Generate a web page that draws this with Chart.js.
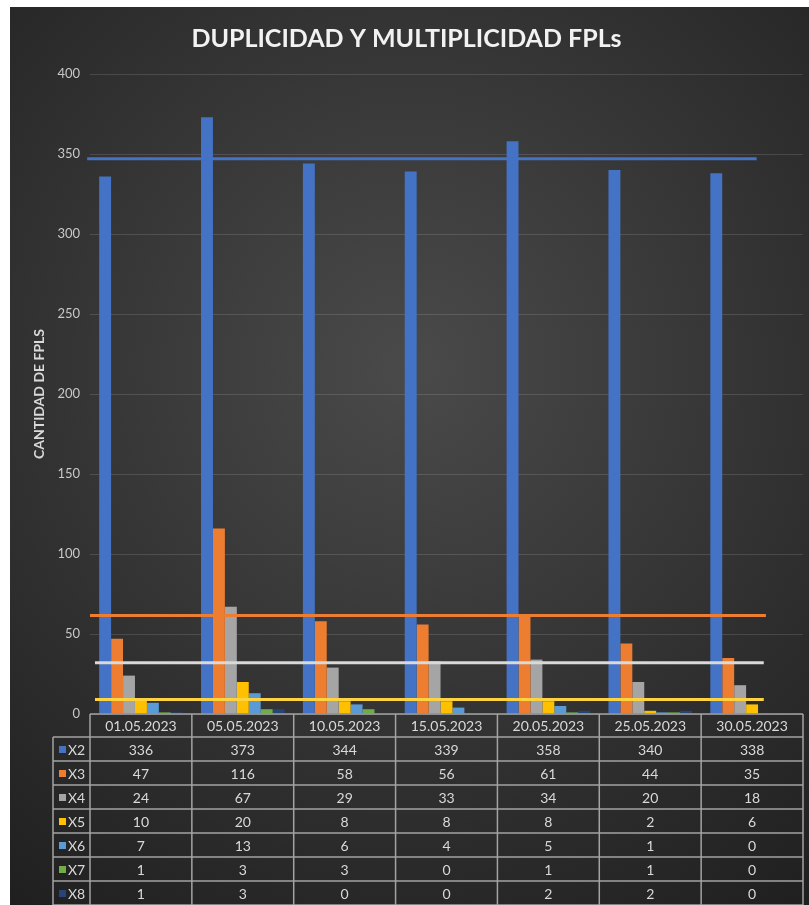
<!DOCTYPE html>
<html>
<head>
<meta charset="utf-8">
<script src="https://cdn.jsdelivr.net/npm/chart.js@4/dist/chart.umd.min.js"></script>
<style>
    html, body { margin: 0; padding: 0; background: #ffffff; }
    #wrap { position: absolute; left: 10px; top: 7px; }
</style>
</head>
<body>
<div id="wrap"><canvas id="fplChart" width="799" height="898"></canvas></div>
<script>
// Data
const fechas = ['01.05.2023', '05.05.2023', '10.05.2023', '15.05.2023', '20.05.2023', '25.05.2023', '30.05.2023'];
const series = ['X2', 'X3', 'X4', 'X5', 'X6', 'X7', 'X8'];
const x2 = [336, 373, 344, 339, 358, 340, 338];
const x3 = [47, 116, 58, 56, 61, 44, 35];
const x4 = [24, 67, 29, 33, 34, 20, 18];
const x5 = [10, 20, 8, 8, 8, 2, 6];
const x6 = [7, 13, 6, 4, 5, 1, 0];
const x7 = [1, 3, 3, 0, 1, 1, 0];
const x8 = [1, 3, 0, 0, 2, 2, 0];
const yTicks = [0, 50, 100, 150, 200, 250, 300, 350, 400];
// horizontal reference lines
const lineSeries = ['X2', 'X3', 'X4', 'X5'];
const lineValues = [347, 61.5, 32, 9];

const values = [x2, x3, x4, x5, x6, x7, x8];
const colors = ['#4472C4', '#ED7D31', '#A5A5A5', '#FFC000', '#5B9BD5', '#70AD47', '#264478'];
const lineColors = ['#4472C4', '#ED7D31', '#D9D9D9', '#FFD23F'];
// where each line starts / ends, as a fraction of the plot width
const lineSpans = [[-0.004, 0.935], [0, 0.948], [0.007, 0.945], [0.007, 0.945]];

const TEXT = '#d9d9d9';
const BORDER = '#a3a3a3';
const HEADER_H = 23;
const ROW_H = 24;
const LEGEND_W = 37;

const bgPlugin = {
    id: 'bg',
    beforeDraw(chart) {
        const { ctx, width, height } = chart;
        const g = ctx.createRadialGradient(width * 0.5, height * 0.4, 0, width * 0.5, height * 0.4, height * 0.75);
        g.addColorStop(0, '#4a4a4a');
        g.addColorStop(1, '#1f1f1f');
        ctx.save();
        ctx.fillStyle = g;
        ctx.fillRect(0, 0, width, height);
        ctx.restore();
    }
};

// horizontal lines, placed with the y scale
const linesPlugin = {
    id: 'refLines',
    afterDatasetsDraw(chart) {
        const { ctx, chartArea } = chart;
        const ys = chart.scales.y;
        const w = chartArea.right - chartArea.left;
        ctx.save();
        ctx.lineWidth = 3;
        lineValues.forEach((v, i) => {
            const y = ys.getPixelForValue(v);
            ctx.strokeStyle = lineColors[i];
            ctx.beginPath();
            ctx.moveTo(chartArea.left + w * lineSpans[i][0], y);
            ctx.lineTo(chartArea.left + w * lineSpans[i][1], y);
            ctx.stroke();
        });
        ctx.restore();
    }
};

// Data table under the plot, columns follow the category scale
const tablePlugin = {
    id: 'dataTable',
    afterDraw(chart) {
        const { ctx, chartArea } = chart;
        const xs = chart.scales.x;
        const top = chartArea.bottom;
        const catW = (chartArea.right - chartArea.left) / fechas.length;
        const left = chartArea.left;
        const right = chartArea.right;
        const bottom = top + HEADER_H + ROW_H * series.length;

        ctx.save();
        ctx.strokeStyle = BORDER;
        ctx.lineWidth = 1.5;

        ctx.beginPath();
        ctx.moveTo(left, top); ctx.lineTo(right, top);
        for (let r = 0; r <= series.length; r++) {
            const y = top + HEADER_H + r * ROW_H;
            ctx.moveTo(left - LEGEND_W, y); ctx.lineTo(right, y);
        }
        ctx.moveTo(left - LEGEND_W, top + HEADER_H); ctx.lineTo(left - LEGEND_W, bottom);
        for (let c = 0; c <= fechas.length; c++) {
            const x = left + c * catW;
            ctx.moveTo(x, top); ctx.lineTo(x, bottom);
        }
        ctx.stroke();

        ctx.fillStyle = TEXT;
        ctx.textAlign = 'center';
        ctx.textBaseline = 'middle';
        ctx.font = '14px Lato';
        fechas.forEach((f, i) => {
            ctx.fillText(f, xs.getPixelForValue(i), top + HEADER_H / 2 + 1);
        });

        series.forEach((s, r) => {
            const yMid = top + HEADER_H + r * ROW_H + ROW_H / 2 + 1;
            ctx.fillStyle = colors[r];
            ctx.fillRect(left - LEGEND_W + 6, yMid - 4, 7, 7);
            ctx.fillStyle = TEXT;
            ctx.textAlign = 'left';
            ctx.font = '14px Lato';
            ctx.fillText(s, left - LEGEND_W + 15, yMid);
            ctx.textAlign = 'center';
            values[r].forEach((v, i) => {
                ctx.fillText(String(v), xs.getPixelForValue(i), yMid);
            });
        });
        ctx.restore();
    }
};

const datasets = series.map((s, i) => ({
    label: s,
    data: values[i],
    backgroundColor: colors[i],
    barPercentage: 1,
    categoryPercentage: 0.82
}));

new Chart(document.getElementById('fplChart'), {
    type: 'bar',
    data: { labels: fechas, datasets: datasets },
    options: {
        responsive: false,
        animation: false,
        layout: { padding: { left: 0, right: 6, top: 0, bottom: HEADER_H + ROW_H * series.length } },
        plugins: {
            legend: { display: false },
            tooltip: { enabled: false },
            title: {
                display: true,
                text: 'DUPLICIDAD Y MULTIPLICIDAD FPLs',
                color: '#f2f2f2',
                font: { family: 'Lato', size: 25, weight: 'bold' },
                padding: { top: 17, bottom: 20 }
            }
        },
        scales: {
            x: { display: false },
            y: {
                min: 0,
                max: 400,
                afterBuildTicks: (scale) => { scale.ticks = yTicks.map(v => ({ value: v })); },
                afterFit: (scale) => { scale.width = 80; },
                border: { display: false },
                grid: { color: 'rgba(255,255,255,0.13)', drawTicks: false },
                ticks: { color: '#c8c8c8', padding: 10, font: { family: 'Lato', size: 13 } },
                title: {
                    display: true,
                    text: 'CANTIDAD DE FPLS',
                    color: TEXT,
                    font: { family: 'Lato', size: 14, weight: 'bold' },
                    padding: { top: 21, bottom: 0 }
                }
            }
        }
    },
    plugins: [bgPlugin, linesPlugin, tablePlugin]
});
</script>
</body>
</html>
